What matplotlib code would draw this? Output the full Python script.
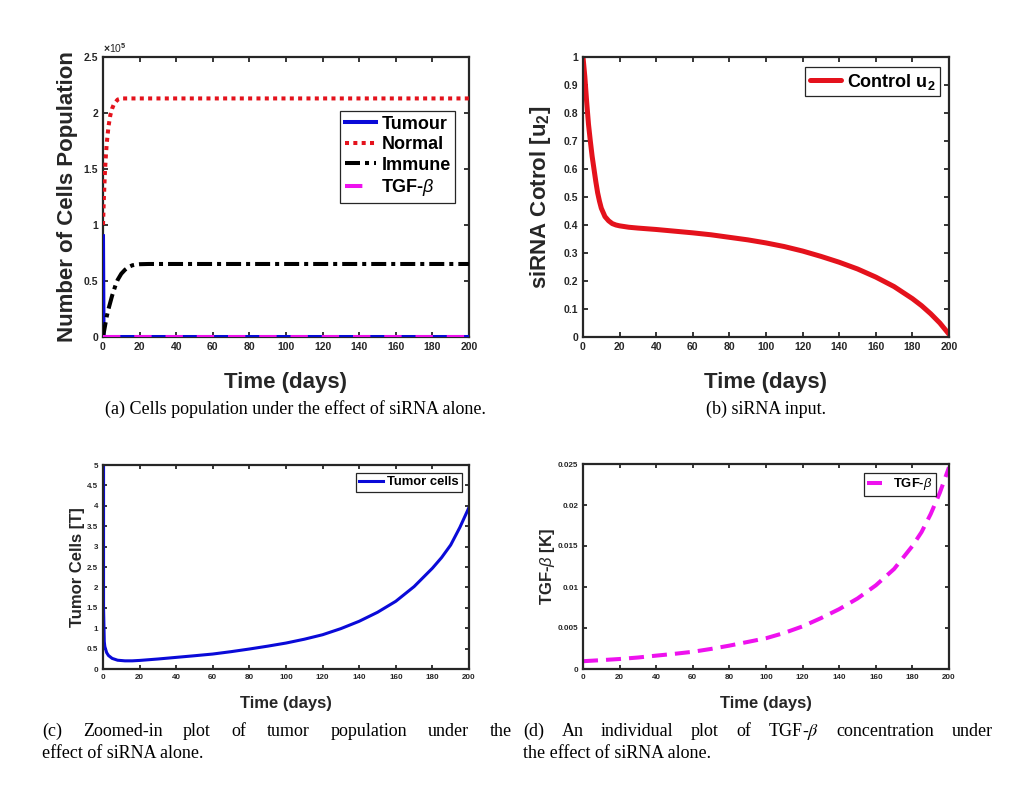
import numpy as np
import matplotlib
matplotlib.use("Agg")
import matplotlib.pyplot as plt
from matplotlib.ticker import FuncFormatter

plt.rcParams['font.family'] = ['Liberation Sans', 'DejaVu Sans']
plt.rcParams['axes.labelweight'] = 'bold'
plt.rcParams['mathtext.fontset'] = 'custom'
plt.rcParams['mathtext.rm'] = 'Liberation Sans:bold'
plt.rcParams['mathtext.bf'] = 'Liberation Sans:bold'
plt.rcParams['mathtext.it'] = 'Liberation Sans:italic'
plt.rcParams['lines.scale_dashes'] = False

# ---- data ----
# tumour cells (panel c, and panel a in units of 1e5)
t_tum = [0, 0.3, 0.7, 1, 2, 3, 5, 8, 12, 16, 20, 30, 40, 50, 60, 70, 80, 90, 100,
         110, 120, 130, 140, 150, 160, 170, 180, 185, 190, 195, 200]
tumour = [90000, 1.5, 0.67, 0.55, 0.40, 0.33, 0.26, 0.215, 0.20, 0.20, 0.21, 0.245,
          0.285, 0.325, 0.367, 0.425, 0.49, 0.56, 0.636, 0.73, 0.84, 0.99, 1.17,
          1.39, 1.66, 2.02, 2.47, 2.73, 3.04, 3.47, 3.96]

# normal cells (x1e5)
t_norm = [0, 0.5, 1, 1.5, 2, 2.5, 3, 4, 5, 6, 7, 8, 10, 15, 200]
normal = [1.0, 1.25, 1.45, 1.6, 1.72, 1.8, 1.88, 1.98, 2.04, 2.08, 2.10, 2.12, 2.13, 2.13, 2.13]

# immune cells (x1e5)
t_imm = [0, 1, 2, 3, 4, 5, 6, 7, 8, 10, 12, 14, 16, 18, 20, 25, 200]
immune = [0, 0.09, 0.18, 0.25, 0.31, 0.37, 0.42, 0.47, 0.51, 0.565, 0.60, 0.625,
          0.64, 0.647, 0.65, 0.652, 0.652]

# TGF-beta (panel d, and panel a)
t_tgf = [0, 10, 20, 30, 40, 50, 60, 70, 80, 90, 100, 110, 120, 130, 140, 150, 160,
         170, 180, 185, 190, 195, 200]
tgf = [0.00095, 0.00108, 0.00122, 0.0014, 0.00163, 0.00185, 0.0021, 0.00245, 0.00285,
       0.0033, 0.00375, 0.0044, 0.0052, 0.0062, 0.0073, 0.0086, 0.0102, 0.0122, 0.015,
       0.0167, 0.0189, 0.0215, 0.0246]

# siRNA control u2 (panel b)
t_u2 = [0, 1, 2, 3, 4, 5, 6, 7, 8, 9, 10, 12, 14, 16, 18, 20, 25, 30, 40, 50, 60, 70,
        80, 90, 100, 110, 120, 130, 140, 150, 160, 170, 180, 185, 190, 195, 200]
u2 = [1.0, 0.93, 0.84, 0.76, 0.70, 0.645, 0.60, 0.555, 0.515, 0.485, 0.46, 0.43, 0.415,
      0.405, 0.40, 0.397, 0.392, 0.389, 0.384, 0.378, 0.372, 0.365, 0.356, 0.347, 0.336,
      0.323, 0.307, 0.288, 0.267, 0.243, 0.214, 0.18, 0.137, 0.112, 0.083, 0.05, 0.01]

x_ticks = list(range(0, 201, 20))
a_yticks = [0, 0.5, 1, 1.5, 2, 2.5]
b_yticks = [0, 0.1, 0.2, 0.3, 0.4, 0.5, 0.6, 0.7, 0.8, 0.9, 1]
c_yticks = [0, 0.5, 1, 1.5, 2, 2.5, 3, 3.5, 4, 4.5, 5]
d_yticks = [0, 0.005, 0.01, 0.015, 0.02, 0.025]

DARK = '#262626'
BLUE = '#0a0ad8'
RED = '#e4121c'
MAG = '#ee11ee'
W, H = 1023, 788

fig = plt.figure(figsize=(W / 100, H / 100), dpi=100)
ax_a = fig.add_axes([103 / W, 1 - 337 / H, 366 / W, 280 / H])
ax_b = fig.add_axes([583 / W, 1 - 337 / H, 366 / W, 280 / H])
ax_c = fig.add_axes([103 / W, 1 - 669 / H, 366 / W, 204 / H])
ax_d = fig.add_axes([583 / W, 1 - 669 / H, 366 / W, 205 / H])

gfmt = FuncFormatter(lambda v, p: '%g' % round(v, 6))


def style(ax, yticks, tsize, tlen, pad):
    ax.set_xlim(0, 200)
    ax.set_ylim(yticks[0], yticks[-1])
    ax.set_xticks(x_ticks)
    ax.set_yticks(yticks)
    ax.xaxis.set_major_formatter(gfmt)
    ax.yaxis.set_major_formatter(gfmt)
    for s in ax.spines.values():
        s.set_linewidth(1.6)
        s.set_color(DARK)
    ax.tick_params(direction='in', top=True, right=True, length=tlen, width=1.3,
                   color=DARK, labelsize=tsize, labelcolor=DARK, pad=pad)
    plt.setp(ax.get_xticklabels() + ax.get_yticklabels(), fontweight='bold')


def legend(ax, anchor, fs, hl, ls):
    lg = ax.legend(loc='upper right', bbox_to_anchor=anchor, borderaxespad=0,
                   prop=dict(size=fs, weight='bold'), handlelength=hl, handletextpad=0.3,
                   labelspacing=ls, borderpad=0.25, fancybox=False, framealpha=1,
                   edgecolor=DARK)
    lg.get_frame().set_linewidth(0.9)
    return lg


# (a) cell populations
ax_a.plot(t_tum, np.array(tumour) / 1e5, color=BLUE, lw=2.9, label='Tumour', zorder=3)
ax_a.plot(t_norm, normal, color=RED, lw=2.9, ls=(0, (2.9, 3.1)), label='Normal', zorder=3)
ax_a.plot(t_imm, immune, color='black', lw=2.9, ls=(0, (10.8, 3.6, 2.9, 3.6)),
          label='Immune', zorder=3)
ax_a.plot(t_tgf, np.array(tgf) / 1e5, color=MAG, lw=2.9, ls=(0, (12.5, 10)),
          label=r'TGF-$\beta$', zorder=4)
style(ax_a, a_yticks, 7.5, 3.5, 3.5)
ax_a.text(0.0, 1.006, r'$\times$10$^5$', transform=ax_a.transAxes, fontsize=7.5,
          color=DARK, va='bottom', ha='left')
ax_a.set_xlabel('Time (days)', fontsize=16, color=DARK)
ax_a.set_ylabel('Number of Cells Population', fontsize=16, color=DARK, va='center')
ax_a.xaxis.set_label_coords(0.5, -0.125)
ax_a.yaxis.set_label_coords(-0.098, 0.5)
legend(ax_a, (0.962, 0.807), 13, 1.72, 0.2)

# (b) siRNA control
ax_b.plot(t_u2, u2, color=RED, lw=3.6, solid_capstyle='round', label=r'Control u$_\mathbf{2}$')
style(ax_b, b_yticks, 7.5, 3.5, 3.5)
ax_b.set_xlabel('Time (days)', fontsize=16, color=DARK)
ax_b.set_ylabel(r'siRNA Cotrol [u$_\mathbf{2}$]', fontsize=16, color=DARK, va='center')
ax_b.xaxis.set_label_coords(0.5, -0.125)
ax_b.yaxis.set_label_coords(-0.117, 0.5)
legend(ax_b, (0.975, 0.964), 13, 1.75, 0.2)

# (c) tumour zoom
ax_c.plot(t_tum, tumour, color=BLUE, lw=2.2, label='Tumor cells')
style(ax_c, c_yticks, 5.8, 2.8, 3.5)
ax_c.set_xlabel('Time (days)', fontsize=12, color=DARK)
ax_c.set_ylabel('Tumor Cells [T]', fontsize=12, color=DARK, va='center')
ax_c.xaxis.set_label_coords(0.5, -0.132)
ax_c.yaxis.set_label_coords(-0.071, 0.5)
legend(ax_c, (0.981, 0.961), 9.4, 1.85, 0.2)

# (d) TGF-beta
ax_d.plot(t_tgf, tgf, color=MAG, lw=2.9, ls=(0, (10.8, 5.8)), label=r'TGF-$\beta$')
style(ax_d, d_yticks, 5.8, 2.8, 3.5)
ax_d.set_xlabel('Time (days)', fontsize=12, color=DARK)
ax_d.set_ylabel(r'TGF-$\beta$ [K]', fontsize=12, color=DARK, va='center')
ax_d.xaxis.set_label_coords(0.5, -0.132)
ax_d.yaxis.set_label_coords(-0.096, 0.5)
legend(ax_d, (0.964, 0.956), 9.4, 1.7, 0.2)

# captions
cap = dict(family=['Liberation Serif', 'DejaVu Serif'], fontsize=13, fontweight='normal',
           math_fontfamily='stix', color='black', va='center')


def justify(words, x0, x1, y):
    r = fig.canvas.get_renderer()
    texts = [fig.text(0, 1 - y / H, w, ha='left', **cap) for w in words]
    widths = [t.get_window_extent(r).width for t in texts]
    gap = (x1 - x0 - sum(widths)) / (len(words) - 1)
    x = x0
    for t, w in zip(texts, widths):
        t.set_x(x / W)
        x += w + gap


fig.text(105 / W, 1 - 409 / H, '(a) Cells population under the effect of siRNA alone.',
         ha='left', **cap)
fig.text(766 / W, 1 - 409 / H, '(b) siRNA input.', ha='center', **cap)
justify('(c) Zoomed-in plot of tumor population under the'.split(), 42, 512, 731)
fig.text(42 / W, 1 - 753 / H, 'effect of siRNA alone.', ha='left', **cap)
justify(r'(d) An individual plot of TGF-$\beta$ concentration under'.split(), 523, 993, 731)
fig.text(523 / W, 1 - 753 / H, 'the effect of siRNA alone.', ha='left', **cap)

fig.savefig('out.png', dpi=100)
